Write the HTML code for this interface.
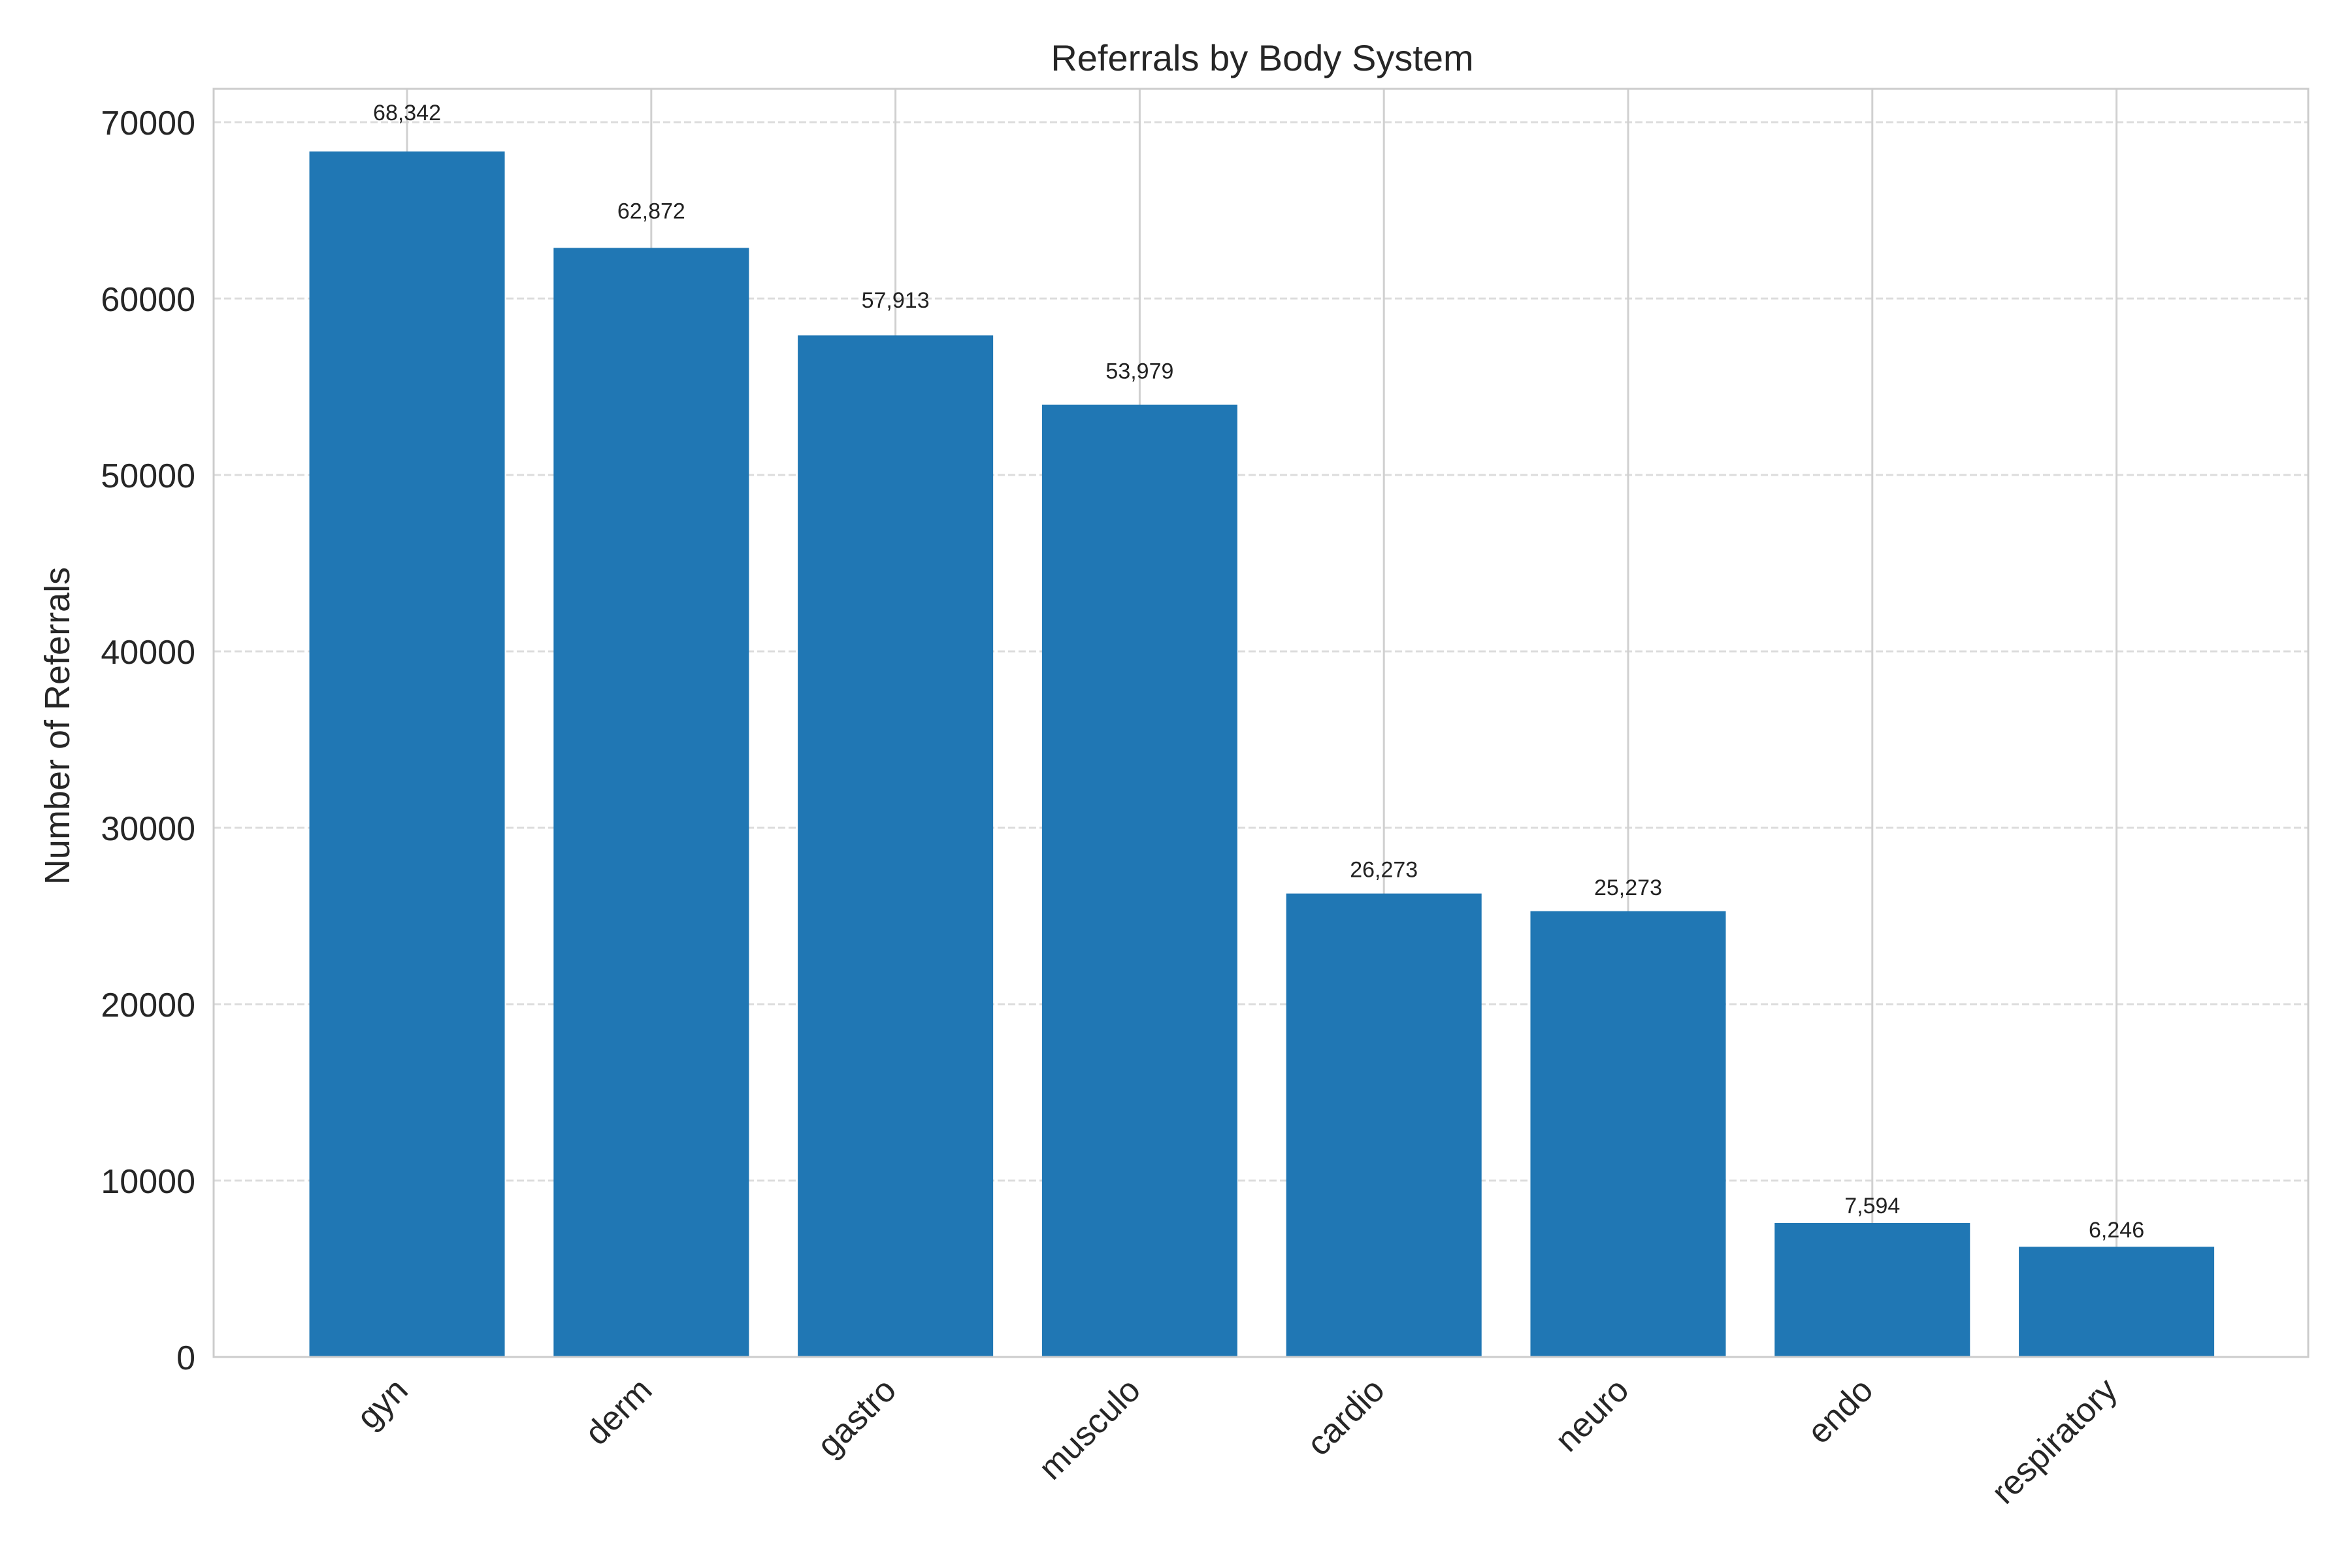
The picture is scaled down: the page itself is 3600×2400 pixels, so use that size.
<!DOCTYPE html>
<html><head><meta charset="utf-8"><style>
html,body{margin:0;padding:0;background:#fff;}
svg{display:block;font-family:"Liberation Sans",Arial,sans-serif;}
</style></head><body>
<svg id="chart" width="3600" height="2400" viewBox="0 0 3600 2400" xmlns="http://www.w3.org/2000/svg">
<rect x="0" y="0" width="3600" height="2400" fill="#fff"/>
<text x="1932" y="108" font-size="56" text-anchor="middle" fill="#262626">Referrals by Body System</text>
<text transform="translate(106,1111) rotate(-90)" font-size="54" text-anchor="middle" fill="#262626">Number of Referrals</text>
<g id="grid"></g>
<g id="bars"></g>
<g id="labels"></g>
<g id="yticks"></g>
<g id="xticks"></g>
<rect x="327" y="136" width="3206" height="1941" fill="none" stroke="#cccccc" stroke-width="3"/>
</svg>
<script>
const categories = ["gyn","derm","gastro","musculo","cardio","neuro","endo","respiratory"];
const values = [68342,62872,57913,53979,26273,25273,7594,6246];
const valueLabels = ["68,342","62,872","57,913","53,979","26,273","25,273","7,594","6,246"];
const yTicks = [0,10000,20000,30000,40000,50000,60000,70000];

const NS="http://www.w3.org/2000/svg";
const L=327,R=3533,T=136,B=2077;
const x0=-0.792, x1=7.785;
const PX10K=270;
function xs(i){return L+(i-x0)/(x1-x0)*(R-L);}
function ys(v){return B-v/10000*PX10K;}
function mk(tag,attrs,parent){const e=document.createElementNS(NS,tag);for(const k in attrs)e.setAttribute(k,attrs[k]);parent.appendChild(e);return e;}
const grid=document.getElementById('grid'),bars=document.getElementById('bars'),labels=document.getElementById('labels'),yt=document.getElementById('yticks'),xt=document.getElementById('xticks');
const bw=0.8*(xs(1)-xs(0));
yTicks.forEach(v=>{
  const y=ys(v);
  if(v>0){const g=mk('line',{x1:L,x2:R,y1:y,y2:y,stroke:'#dcdcdc','stroke-width':3,'stroke-dasharray':'11,5'},grid);
  
  }
  const t=mk('text',{x:L-28,y:y+19,'font-size':52,'text-anchor':'end',fill:'#262626'},yt);
  t.textContent=String(v);
  
  
});
categories.forEach((c,i)=>{
  const cx=xs(i);
  const g=mk('line',{x1:cx,x2:cx,y1:T,y2:B,stroke:'#d0d0d0','stroke-width':3},grid);
  
  
  const r=mk('rect',{x:cx-bw/2,y:ys(values[i]),width:bw,height:B-ys(values[i]),fill:'#2077b4'},bars);
  
  
  const lb=mk('text',{x:cx,y:ys(values[i]*1.02)-11,'font-size':34,'text-anchor':'middle',fill:'#222'},labels);
  lb.textContent=valueLabels[i];
  
  
  const tx=mk('text',{transform:'translate('+(cx+4)+','+(B+54)+') rotate(-45)','font-size':52,'text-anchor':'end',fill:'#262626'},xt);
  tx.textContent=c;
  
  
});
</script>
</body></html>
